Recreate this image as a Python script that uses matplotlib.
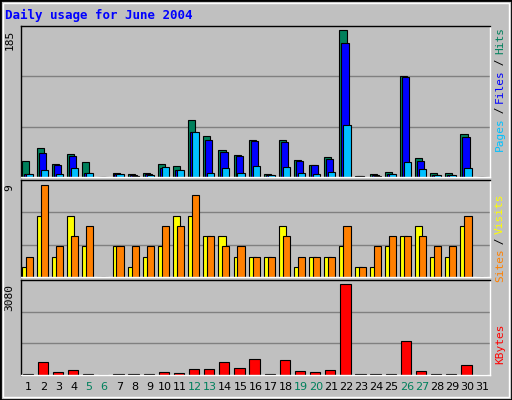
import matplotlib
matplotlib.use("Agg")
import matplotlib.pyplot as plt
import numpy as np

days = list(range(1, 32))
weekends = [5, 6, 12, 13, 19, 20, 26, 27]
hits = [20,37,16,29,19,0,5,4,5,16,14,72,52,34,28,47,4,47,21,15,25,185,1,4,6,127,24,5,5,54,0]
files = [4,30,15,26,5,0,4,2,4,11,9,57,47,32,26,45,3,44,20,15,23,168,1,2,4,126,20,3,3,50,0]
pages = [4,9,4,11,5,0,4,1,3,13,9,57,5,11,5,14,3,13,5,4,6,66,0,1,4,19,10,3,3,11,0]
visits = [1,6,2,6,3,0,3,1,2,3,6,6,4,4,2,2,2,5,1,2,2,3,1,1,3,4,5,2,2,5,0]
sites = [2,9,3,4,5,0,3,3,3,5,5,8,4,3,3,2,2,4,2,2,2,5,1,3,4,4,4,3,3,6,0]
kbytes = [20,450,110,180,20,0,20,20,20,110,80,215,215,450,250,550,20,520,145,110,180,3080,20,20,20,1160,145,20,20,350,0]

W, H = 512, 400
fig = plt.figure(figsize=(5.12, 4.0), dpi=100, facecolor="#C0C0C0")
fig.patches.append(plt.Rectangle((0, 0), 1, 1, transform=fig.transFigure, fill=False, ec="black", lw=2))
fig.patches.append(plt.Rectangle((3/W, 3/H), 1-6/W, 1-6/H, transform=fig.transFigure, fill=False, ec="white", lw=1))

def mkax(top, bot):
    ax = fig.add_axes([21/W, 1-bot/H, (490-21)/W, (bot-top)/H])
    ax.set_facecolor("#C0C0C0")
    for s in ax.spines.values():
        s.set_color("black"); s.set_linewidth(1)
    ax.spines["bottom"].set_color("white"); ax.spines["right"].set_color("white")
    ax.set_xlim(0.5, 31.5)
    ax.set_xticks([]); ax.set_yticks([])
    for f in (1/3, 2/3):
        ax.plot([0, 1], [f, f], color="#808080", lw=1, zorder=0.5, transform=ax.transAxes)
    return ax

x = np.array(days, dtype=float)
kw = dict(edgecolor="black", linewidth=0.8, align="edge")

ax1 = mkax(26, 177)
ax1.set_ylim(0, 190)
w = 0.47
ax1.bar(x - 0.45, hits, w, color="#00805C", **kw)
ax1.bar(x - 0.32, files, w, color="#0000FF", **kw)
ax1.bar(x - 0.19, pages, w, color="#00C0FF", **kw)
ax1.text(-0.025, 1 - 4/151, "185", transform=ax1.transAxes, rotation=90, ha="center", va="top",
         fontsize=8, family="DejaVu Sans Mono")

ax2 = mkax(180, 277)
ax2.set_ylim(0, 9.5)
ax2.bar(x - 0.45, visits, 0.47, color="#FFFF00", **kw)
ax2.bar(x - 0.19, sites, 0.47, color="#FF8000", **kw)
ax2.text(-0.025, 1 - 4/97, "9", transform=ax2.transAxes, rotation=90, ha="center", va="top",
         fontsize=8, family="DejaVu Sans Mono")

ax3 = mkax(280, 375)
ax3.set_ylim(0, 3200)
ax3.bar(x - 0.4, kbytes, 0.68, color="#FF0000", **kw)
ax3.text(-0.025, 1 - 4/95, "3080", transform=ax3.transAxes, rotation=90, ha="center", va="top",
         fontsize=8, family="DejaVu Sans Mono")

for d in days:
    ax3.text(d, -0.13, str(d), transform=ax3.get_xaxis_transform(), ha="center", va="center",
             fontsize=8, family="DejaVu Sans", color="#00805C" if d in weekends else "black")

fig.text(5/W, 1-15/H, "Daily usage for June 2004", color="#0000FF", fontsize=9,
         fontweight="bold", family="DejaVu Sans Mono", va="center")

def rlabel(parts, ycenter, cw=6.0):
    total = sum(len(p) for p, _ in parts) * cw
    ybot = ycenter + total / 2
    off = 0
    for p, c in parts:
        L = len(p) * cw
        yc = ybot - off - L / 2
        fig.text(500/W, 1 - yc/H, p, rotation=90, ha="center", va="center", color=c,
                 fontsize=8, family="DejaVu Sans Mono")
        off += L

rlabel([("Pages", "#00C0FF"), (" / ", "#000000"), ("Files", "#0000FF"), (" / ", "#000000"), ("Hits", "#00805C")], 89)
rlabel([("Sites", "#FF8000"), (" / ", "#000000"), ("Visits", "#FFFF00")], 238)
rlabel([("KBytes", "#FF0000")], 344)

fig.savefig("out.png", dpi=100, facecolor=fig.get_facecolor())
